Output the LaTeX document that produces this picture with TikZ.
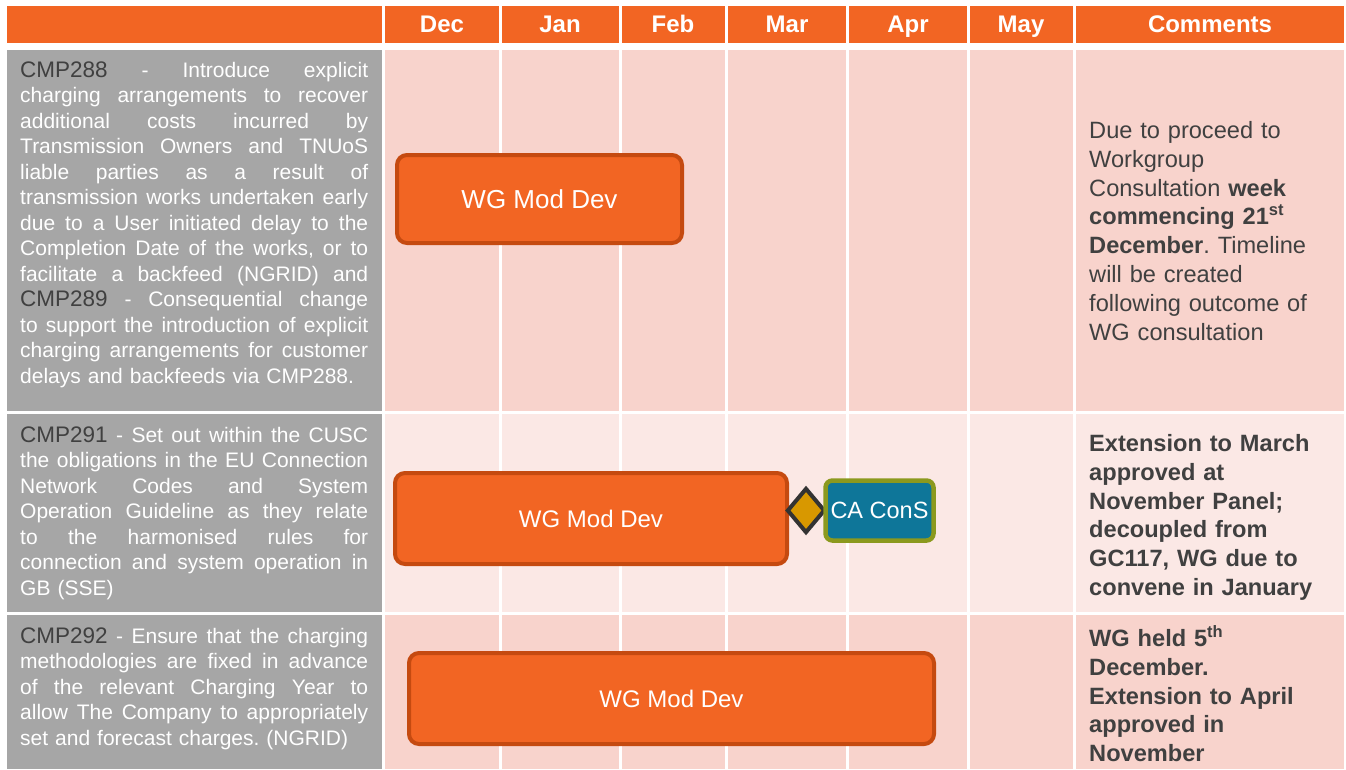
\documentclass[tikz,border=0pt]{standalone}
\usepackage{fontspec}
\setmainfont{Liberation Sans}
\usetikzlibrary{shapes.geometric}
\definecolor{hdr}{RGB}{242,101,35}
\definecolor{rowa}{RGB}{248,211,204}
\definecolor{rowb}{RGB}{251,232,229}
\definecolor{leftgray}{RGB}{166,166,166}
\definecolor{boxfill}{RGB}{242,101,35}
\definecolor{boxedge}{RGB}{197,74,16}
\definecolor{txtgray}{RGB}{64,64,64}
\definecolor{cateal}{RGB}{14,118,153}
\definecolor{caolive}{RGB}{139,153,30}
\definecolor{msgold}{RGB}{216,152,0}
\frenchspacing
\newcommand\jl[1]{\leavevmode\hbox to 348pt{\spaceskip=0.278em plus 1fil\relax #1}}
\newcommand\gcode[1]{{\color{txtgray}\fontsize{22.5}{25.5}\selectfont #1}}
\tikzset{
  hdrtext/.style={text=white, font=\fontsize{24}{28}\selectfont\bfseries, anchor=base, inner sep=0pt},
  lefttext/.style={text=white, font=\fontsize{21}{25.5}\selectfont, anchor=base west, inner sep=0pt, text width=348pt, align=left},
  comtext/.style={text=txtgray, font=\fontsize{23.6}{28.8}\selectfont, anchor=base west, inner sep=0pt, text width=255pt, align=left},
  wgbox/.style={draw=boxedge, fill=boxfill, line width=4pt, rounded corners=10pt, text=white, font=\fontsize{24}{28}\selectfont, inner sep=0pt},
  cabox/.style={draw=caolive, fill=cateal, line width=4.5pt, rounded corners=7pt, text=white, font=\fontsize{23.5}{28}\selectfont, inner sep=0pt},
  milestone/.style={draw=black!80, fill=msgold, line width=4pt, diamond, inner sep=0pt}
}
\begin{document}
\begin{tikzpicture}[x=1pt,y=-1pt]
\useasboundingbox (0,0) rectangle (1346,769);
\fill[white] (0,0) rectangle (1346,769);
% left column
\fill[hdr] (7,6) rectangle (382,43);
\fill[leftgray] (7,50) rectangle (382,411);
\fill[leftgray] (7,414) rectangle (382,612);
\fill[leftgray] (7,615) rectangle (382,769);
% month and comment columns
\foreach \a/\b in {385/499,502/619,622/725,728/846,849/967,970/1073,1076/1344} {
  \fill[hdr] (\a,6) rectangle (\b,43);
  \fill[rowa] (\a,50) rectangle (\b,411);
  \fill[rowb] (\a,414) rectangle (\b,612);
  \fill[rowa] (\a,615) rectangle (\b,769);
}
% header texts
\node[hdrtext] (hdec) at (442,32.5) {Dec};
\node[hdrtext] (hjan) at (560,32.5) {Jan};
\node[hdrtext] (hfeb) at (673,32.5) {Feb};
\node[hdrtext] (hmar) at (787,32.5) {Mar};
\node[hdrtext] (hapr) at (908,32.5) {Apr};
\node[hdrtext] (hmay) at (1021,32.5) {May};
\node[hdrtext] (hcom) at (1210,32.5) {Comments};
% left texts
\node[lefttext] (t288) at (20,77) {%
\jl{\gcode{CMP288} - Introduce explicit}\\
\jl{charging arrangements to recover}\\
\jl{additional costs incurred by}\\
\jl{Transmission Owners and TNUoS}\\
\jl{liable parties as a result of}\\
\jl{transmission works undertaken early}\\
\jl{due to a User initiated delay to the}\\
\jl{Completion Date of the works, or to}\\
\jl{facilitate a backfeed (NGRID) and}\\
\jl{\gcode{CMP289} - Consequential change}\\
\jl{to support the introduction of explicit}\\
\jl{charging arrangements for customer}\\
delays and backfeeds via CMP288.};
\node[lefttext] (t291) at (20,442) {%
\jl{\gcode{CMP291} - Set out within the CUSC}\\
\jl{the obligations in the EU Connection}\\
\jl{Network Codes and System}\\
\jl{Operation Guideline as they relate}\\
\jl{to the harmonised rules for}\\
\jl{connection and system operation in}\\
GB (SSE)};
\node[lefttext] (t292) at (20,643) {%
\jl{\gcode{CMP292} - Ensure that the charging}\\
\jl{methodologies are fixed in advance}\\
\jl{of the relevant Charging Year to}\\
\jl{allow The Company to appropriately}\\
set and forecast charges. (NGRID)};
% bars
\node[wgbox, minimum width=285pt, minimum height=88pt, font=\fontsize{26}{30}\selectfont] (bar1) at (539.5,199) {WG Mod Dev};
\node[wgbox, minimum width=392pt, minimum height=91pt] (bar2) at (591,518.5) {WG Mod Dev};
\node[wgbox, minimum width=525pt, minimum height=91pt] (bar3) at (671.5,698.5) {WG Mod Dev};
\node[milestone, minimum width=38pt, minimum height=45pt] (ms) at (806,510.5) {};
\node[cabox, minimum width=108pt, minimum height=60pt] (cacons) at (879.5,510.5) {CA ConS};
% comments
\node[comtext] (c1) at (1089,138.5) {%
Due to proceed to\\
Workgroup\\
Consultation \textbf{week}\\
\textbf{commencing 21\textsuperscript{st}}\\
\textbf{December}. Timeline\\
will be created\\
following outcome of\\
WG consultation};
\node[comtext, font=\fontsize{23.6}{28.8}\selectfont\bfseries] (c2) at (1089,451.5) {%
Extension to March\\
approved at\\
November Panel;\\
decoupled from\\
GC117, WG due to\\
convene in January};
\node[comtext, font=\fontsize{23.6}{28.8}\selectfont\bfseries] (c3) at (1089,646.5) {%
WG held 5\textsuperscript{th}\\
December.\\
Extension to April\\
approved in\\
November};
\end{tikzpicture}
\end{document}
